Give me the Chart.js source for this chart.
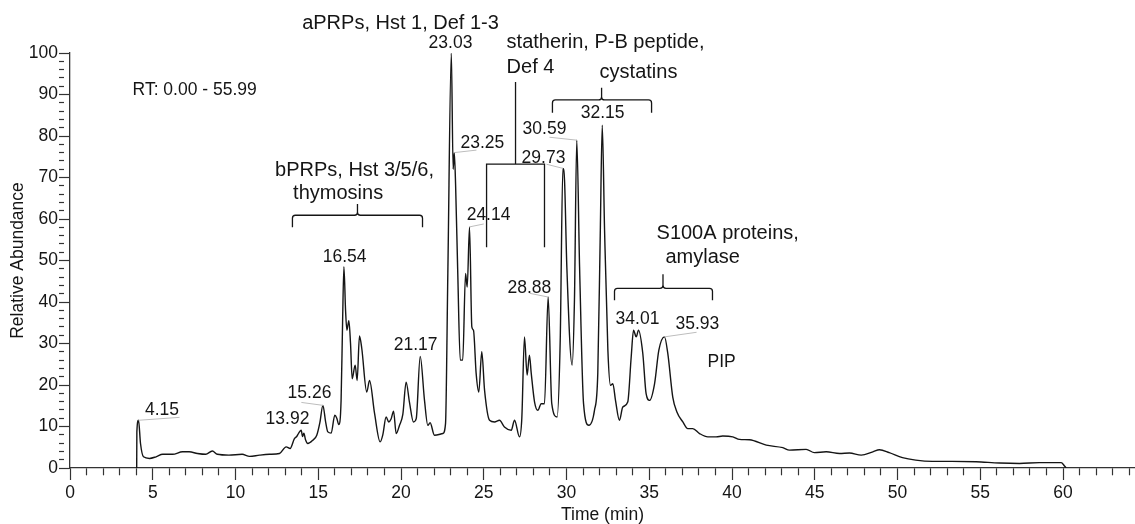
<!DOCTYPE html>
<html>
<head>
<meta charset="utf-8">
<script src="https://cdn.jsdelivr.net/npm/chart.js@4/dist/chart.umd.min.js"></script>
<style>
  html, body { margin: 0; padding: 0; background: #fff; }
  #wrap { width: 1135px; height: 524px; position: relative; }
</style>
</head>
<body>
<div id="wrap"><canvas id="chrom"></canvas></div>
<script>
// chromatogram trace (time in min, relative abundance in %)
const times = [
  4.03, 4.04, 4.14, 4.26, 4.44, 4.8, 5.2, 5.6, 6.2, 6.8, 7.2, 7.7, 8.2, 8.6, 8.9, 9.6,
  10.4, 10.85, 11.45, 12.05, 12.66, 13.06, 13.3, 13.56, 13.7, 13.82, 13.97, 14.05, 14.13,
  14.23, 14.37, 14.67, 14.91, 15.1, 15.28, 15.45, 15.58, 15.78, 16.0, 16.12, 16.24, 16.38,
  16.47, 16.55, 16.65, 16.73, 16.85, 16.95, 17.05, 17.23, 17.35, 17.49, 17.63, 17.93, 18.1,
  18.4, 18.74, 18.9, 19.1, 19.26, 19.4, 19.55, 19.71, 19.91, 20.11, 20.31, 20.51, 20.75,
  20.92, 21.16, 21.42, 21.62, 21.76, 22.02, 22.53, 22.69, 22.83, 23.04, 23.15, 23.22, 23.3,
  23.43, 23.58, 23.73, 23.9, 24.0, 24.14, 24.28, 24.38, 24.54, 24.7, 24.88, 25.05, 25.35,
  25.65, 25.95, 26.25, 26.66, 26.86, 27.16, 27.3, 27.46, 27.62, 27.76, 27.87, 28.07, 28.27,
  28.47, 28.67, 28.89, 29.11, 29.43, 29.62, 29.78, 29.88, 30.02, 30.34, 30.48, 30.62, 30.79,
  31.03, 31.35, 31.69, 31.89, 32.04, 32.16, 32.3, 32.5, 32.66, 32.8, 32.96, 33.2, 33.4, 33.7,
  33.91, 34.05, 34.21, 34.35, 34.61, 34.81, 35.02, 35.32, 35.58, 35.92, 36.12, 36.42, 36.67,
  37.03, 37.33, 37.63, 38.04, 38.54, 39.04, 39.44, 40.05, 40.45, 41.06, 42.07, 43.07, 43.47,
  44.48, 44.98, 45.69, 46.5, 47.1, 47.81, 48.51, 48.91, 49.5, 50.3, 51.1, 52.1, 53.3, 54.75,
  56.16, 57.37, 58.58, 59.89, 60.09, 60.19
];
const abundance = [
  0, 8.7, 11.5, 5.9, 2.7, 2.3, 2.7, 3.3, 3.3, 3.9, 3.9, 3.5, 3.3, 4.1, 3.3, 3.1,
  3.3, 2.8, 3.1, 3.3, 3.5, 5.1, 4.7, 7.1, 7.6, 8.4, 9.1, 7.6, 8.4,
  6.8, 5.9, 6.7, 7.9, 11, 15.1, 11, 8.7, 8.4, 12.7, 12.0, 10.5, 16.3,
  35, 48.5, 38, 33.2, 35.5, 30, 21.5, 24.8, 21.1, 31.8, 28.8, 18.3, 21.1,
  13.2, 6.3, 8, 12.3, 11.1, 11.8, 13.7, 8.3, 10.3, 12.9, 20.7, 15.9, 11.1,
  11.9, 26.9, 16.3, 10.3, 10.9, 7.9, 8.3, 10.7, 46.9, 100, 72, 76, 68,
  46.9, 26, 26, 46.9, 43.6, 58.1, 34, 33.2, 22.8, 18.3, 28, 18.7, 11.5,
  11.1, 11.5, 9.9, 9.1, 11.5, 7.5, 12, 31.6, 22.4, 27.2, 22.8, 15.9, 13.9,
  15.5, 15.5, 41.2, 15.5, 12.3, 30.8, 72.2, 69.4, 48.5, 24.8, 40.4, 79, 48.5,
  15.5, 10.3, 13.9, 22.8, 56.5, 82.6, 57.3, 28.4, 19.9, 20.3, 16.3, 11.5, 14.7, 15.9,
  26.8, 33.2, 31.6, 33.2, 27.6, 17.9, 16.3, 20.3, 28.4, 31.6, 27.6, 17.1, 13.5,
  11.1, 9.5, 9.5, 8.3, 7.5, 7.5, 7.7, 7.5, 6.9, 6.8, 5.5, 4.9, 4.3,
  4.5, 3.7, 3.9, 3.5, 3.6, 3.1, 3.9, 4.4, 3.7, 2.5, 1.9, 1.6, 1.6, 1.5,
  1.2, 1.1, 1.3, 1.3, 0.5, 0
];

// labelled peak retention times
const peakTimes = [4.15, 13.92, 15.26, 16.54, 21.17, 23.03, 23.25, 24.14, 28.88, 29.73, 30.59, 32.15, 34.01, 35.93];

// tick labels
const xTickLabels = [0, 5, 10, 15, 20, 25, 30, 35, 40, 45, 50, 55, 60];
const yTickLabels = [0, 10, 20, 30, 40, 50, 60, 70, 80, 90, 100];

// protein group names
const groupNames = [
  ['aPRPs, Hst 1, Def 1-3'],
  ['bPRPs, Hst 3/5/6,', 'thymosins'],
  ['statherin, P-B peptide,', 'Def 4'],
  ['cystatins'],
  ['S100A proteins,', 'amylase']
];

// ---- layout of annotations (data units: [time, abundance]) ----
const FONT = "'Liberation Sans', Arial, Helvetica, sans-serif";
const INK = '#151515';

const peakLabelPos = [
  [5.56, 13.9], [13.14, 11.7], [14.47, 18.0], [16.59, 50.8], [20.88, 29.6],
  [22.99, 102.4], [24.92, 78.3], [25.29, 60.9], [27.76, 43.3], [28.61, 74.7],
  [28.67, 81.7], [32.18, 85.5], [34.29, 35.9], [37.91, 34.7]
];
// thin grey leaders [t1, a1, t2, a2]
const leaders = [
  [4.14, 11.5, 6.62, 12.2],
  [13.98, 15.8, 15.28, 15.1],
  [23.22, 76, 24.56, 76.6],
  [24.14, 58.1, 25.0, 58.8],
  [27.77, 42.1, 28.89, 41.2],
  [28.79, 73.2, 29.78, 72.2],
  [28.97, 79.7, 30.62, 79],
  [35.92, 31.6, 37.86, 32.7]
];
// group text lines: [groupIndex, lineIndex, t, a, align]
const groupTextPos = [
  [0, 0, 19.97, 107.2, 'center'],
  [1, 0, 17.19, 71.7, 'center'],
  [1, 1, 16.2, 66.2, 'center'],
  [2, 0, 26.38, 102.6, 'left'],
  [2, 1, 26.38, 96.4, 'left'],
  [3, 0, 34.35, 95.2, 'center'],
  [4, 0, 35.44, 56.6, 'left'],
  [4, 1, 35.98, 50.8, 'left']
];
// curly brackets: left, centre, right time; horizontal, end and notch abundance
const braces = [
  [13.44, 17.37, 21.30, 60.9, 58.0, 63.6],
  [29.15, 32.12, 35.14, 88.7, 85.6, 91.6],
  [32.90, 35.83, 38.82, 43.3, 40.4, 46.7]
];
// square bracket for statherin group
const squareBracket = { left: 25.17, centre: 26.92, right: 28.67, top: 93.0, bar: 73.2, bottom: 53.2 };

const annotate = {
  id: 'annotate',
  afterDraw(chart) {
    const ctx = chart.ctx;
    const xs = chart.scales.x, ys = chart.scales.y;
    const X = t => xs.getPixelForValue(t);
    const Y = a => ys.getPixelForValue(a);
    ctx.save();

    ctx.strokeStyle = '#bdbdbd';
    ctx.lineWidth = 1;
    leaders.forEach(l => {
      ctx.beginPath();
      ctx.moveTo(X(l[0]), Y(l[1]));
      ctx.lineTo(X(l[2]), Y(l[3]));
      ctx.stroke();
    });

    ctx.strokeStyle = INK;
    ctx.lineWidth = 1.3;
    const r = 3;
    braces.forEach(b => {
      const L = X(b[0]), C = X(b[1]), R = X(b[2]);
      const H = Y(b[3]), E = Y(b[4]), N = Y(b[5]);
      ctx.beginPath();
      ctx.moveTo(L, E);
      ctx.lineTo(L, H + r);
      ctx.quadraticCurveTo(L, H, L + r, H);
      ctx.lineTo(C - r, H);
      ctx.quadraticCurveTo(C, H, C, H - r);
      ctx.lineTo(C, N);
      ctx.moveTo(C, H - r);
      ctx.quadraticCurveTo(C, H, C + r, H);
      ctx.lineTo(R - r, H);
      ctx.quadraticCurveTo(R, H, R, H + r);
      ctx.lineTo(R, E);
      ctx.stroke();
    });

    const sb = squareBracket;
    ctx.beginPath();
    ctx.moveTo(X(sb.centre), Y(sb.top));
    ctx.lineTo(X(sb.centre), Y(sb.bar));
    ctx.moveTo(X(sb.left), Y(sb.bottom));
    ctx.lineTo(X(sb.left), Y(sb.bar));
    ctx.lineTo(X(sb.right), Y(sb.bar));
    ctx.lineTo(X(sb.right), Y(sb.bottom));
    ctx.stroke();

    ctx.fillStyle = INK;
    ctx.textBaseline = 'middle';
    ctx.font = '17.5px ' + FONT;
    ctx.textAlign = 'center';
    peakTimes.forEach((pt, i) => {
      const p = peakLabelPos[i];
      ctx.fillText(pt.toFixed(2), X(p[0]), Y(p[1]));
    });
    ctx.fillText('PIP', X(39.37), Y(25.5));
    ctx.textAlign = 'left';
    ctx.fillText('RT: 0.00 - 55.99', X(3.78), Y(91.1));

    ctx.font = '20px ' + FONT;
    groupTextPos.forEach(g => {
      ctx.textAlign = g[4];
      ctx.fillText(groupNames[g[0]][g[1]], X(g[2]), Y(g[3]));
    });
    ctx.restore();
  }
};

const tickFont = { family: FONT, size: 17.5 };

new Chart(document.getElementById('chrom'), {
  type: 'line',
  data: {
    datasets: [{
      data: times.map((t, i) => ({ x: t, y: abundance[i] })),
      borderColor: '#151515',
      borderWidth: 1.4,
      pointRadius: 0,
      cubicInterpolationMode: 'monotone',
      fill: false
    }]
  },
  options: {
    responsive: true,
    maintainAspectRatio: false,
    animation: false,
    layout: { padding: { top: 53, right: 0, bottom: 0, left: 0 } },
    plugins: {
      legend: { display: false },
      tooltip: { enabled: false }
    },
    scales: {
      x: {
        type: 'linear',
        min: 0,
        max: 64.35,
        afterFit: s => { s.height = 56; },
        border: { color: '#333', width: 1.3 },
        grid: {
          drawOnChartArea: false,
          tickLength: 12,
          tickColor: '#333',
          tickWidth: 1.2,
          tickBorderDash: c => (c.tick && xTickLabels.includes(c.tick.value)) ? [] : [7, 40]
        },
        ticks: {
          stepSize: 1,
          includeBounds: false,
          autoSkip: false,
          maxRotation: 0,
          padding: 3,
          color: INK,
          font: tickFont,
          callback: v => xTickLabels.includes(v) ? String(v) : ''
        },
        title: {
          display: true,
          text: 'Time (min)',
          color: INK,
          font: { family: FONT, size: 17.5, lineHeight: 1 },
          padding: 0
        }
      },
      y: {
        min: 0,
        max: 100,
        afterFit: s => { s.width = 70; },
        border: { color: '#333', width: 1.3 },
        grid: {
          drawOnChartArea: false,
          tickLength: 11,
          tickColor: '#333',
          tickWidth: 1.2,
          tickBorderDash: c => (c.tick && yTickLabels.includes(c.tick.value)) ? [] : [5, 40]
        },
        ticks: {
          stepSize: 2,
          autoSkip: false,
          padding: 1,
          color: INK,
          font: tickFont,
          callback: v => yTickLabels.includes(v) ? String(v) : ''
        },
        title: {
          display: true,
          text: 'Relative Abundance',
          color: INK,
          font: { family: FONT, size: 17.5 },
          padding: { top: 8, bottom: 0 }
        }
      }
    }
  },
  plugins: [annotate]
});
</script>
</body>
</html>
